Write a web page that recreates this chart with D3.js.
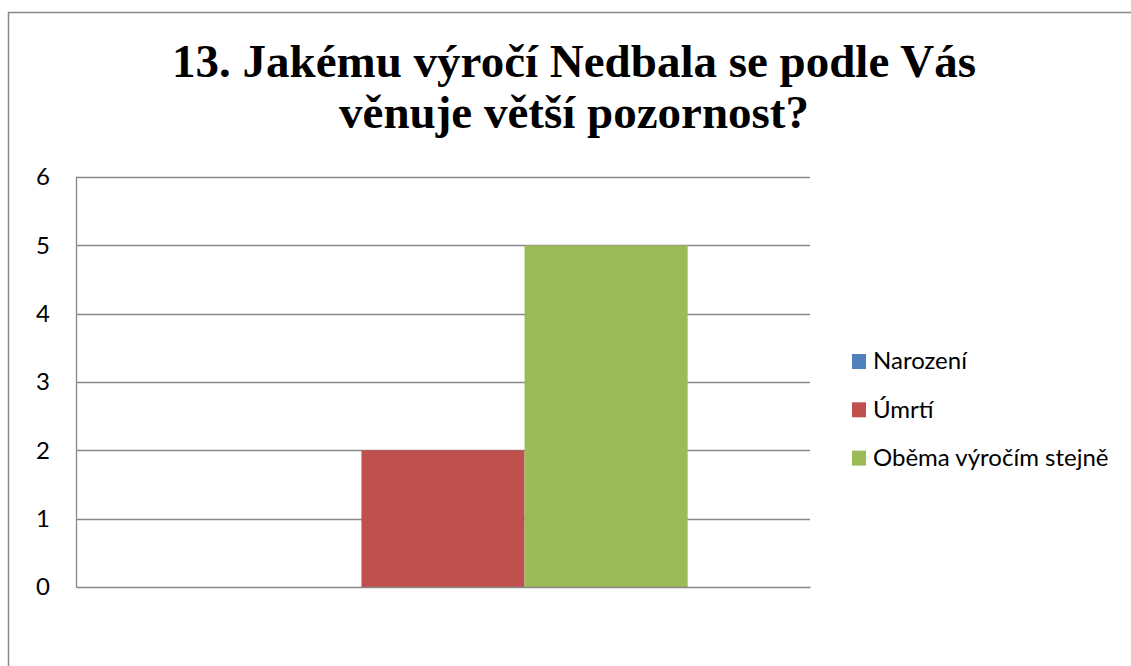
<!DOCTYPE html>
<html>
<head>
<meta charset="utf-8">
<script src="https://cdn.jsdelivr.net/npm/d3@7"></script>
<style>
  body { margin: 0; background: #fff; }
  .tick-label, .legend-label { font-family: Lato, "Open Sans", sans-serif; font-size: 24px; fill: #000; }
  .main-title { font-family: "Liberation Serif", "Times New Roman", serif; font-weight: bold; font-size: 47px; fill: #000; }
</style>
</head>
<body>
<div id="chart"></div>
<script>
// Data
const categories = ["Q13"];
const seriesNames = ["Narození", "Úmrtí", "Oběma výročím stejně"];
const seriesValues = [0, 2, 5];
const seriesColors = ["#4F81BD", "#C0504D", "#9BBB59"];
const yTicks = [0, 1, 2, 3, 4, 5, 6];
const titleLines = ["13. Jakému výročí Nedbala se podle Vás", "věnuje větší pozornost?"];

// Layout
const W = 1131, H = 666;
const plot = { left: 76, right: 810, top: 177, bottom: 587 };

const svg = d3.select("#chart")
  .append("svg")
  .attr("width", W)
  .attr("height", H);

// Outer chart frame (only top and left edges visible in the picture)
svg.append("rect")
  .attr("x", 8.5)
  .attr("y", 12.5)
  .attr("width", W + 20)
  .attr("height", H + 20)
  .attr("fill", "#fff")
  .attr("stroke", "#868686")
  .attr("stroke-width", 1.5);

// Title
const title = svg.append("text")
  .attr("class", "main-title")
  .attr("text-anchor", "middle");
title.selectAll("tspan")
  .data(titleLines)
  .enter()
  .append("tspan")
  .attr("x", 574)
  .attr("y", (d, i) => 77 + i * 51)
  .text(d => d);

// Scales
const yScale = d3.scaleLinear()
  .domain([0, d3.max(yTicks)])
  .range([plot.bottom, plot.top]);

const x0 = d3.scaleBand()
  .domain(categories)
  .range([plot.left, plot.right])
  .padding(0);

// gap width 150% -> outer padding of 0.75 bar on each side
const x1 = d3.scaleBand()
  .domain(seriesNames)
  .range([0, x0.bandwidth()])
  .paddingInner(0)
  .paddingOuter(0.75);

const color = d3.scaleOrdinal().domain(seriesNames).range(seriesColors);

// Gridlines
svg.append("g")
  .selectAll("line")
  .data(yTicks.filter(t => t > 0))
  .enter()
  .append("line")
  .attr("x1", plot.left)
  .attr("x2", plot.right)
  .attr("y1", d => Math.round(yScale(d)) + 0.5)
  .attr("y2", d => Math.round(yScale(d)) + 0.5)
  .style("stroke", "#888")
  .style("stroke-width", 1.3);

// Bars
const series = seriesNames.map((name, i) => ({ name, value: seriesValues[i] }));
svg.append("g")
  .attr("transform", `translate(${x0(categories[0])},0)`)
  .selectAll("rect")
  .data(series)
  .enter()
  .append("rect")
  .attr("x", d => x1(d.name))
  .attr("width", x1.bandwidth())
  .attr("y", d => yScale(d.value))
  .attr("height", d => yScale(0) - yScale(d.value))
  .attr("fill", d => color(d.name));

// Y axis
const yAxis = svg.append("g")
  .attr("transform", `translate(${plot.left},0)`)
  .call(d3.axisLeft(yScale).tickValues(yTicks).tickFormat(d3.format("d")).tickSize(0).tickPadding(26));
yAxis.select(".domain").attr("stroke", "#888").attr("stroke-width", 1.3);
yAxis.selectAll("text").attr("class", "tick-label").attr("fill", null);

// X axis (baseline)
const xAxis = svg.append("g")
  .attr("transform", `translate(0,${plot.bottom})`)
  .call(d3.axisBottom(x0).tickSize(0).tickFormat(""));
xAxis.select(".domain").attr("stroke", "#888").attr("stroke-width", 1.3);

// Legend
const legend = svg.append("g")
  .attr("transform", "translate(852,361)")
  .selectAll("g")
  .data(seriesNames)
  .enter()
  .append("g")
  .attr("transform", (d, i) => `translate(0,${i * 48.3})`);

legend.append("rect")
  .attr("x", 0)
  .attr("y", -7)
  .attr("width", 14)
  .attr("height", 15)
  .attr("fill", d => color(d));

legend.append("text")
  .attr("class", "legend-label")
  .attr("x", 21)
  .attr("dy", "0.35em")
  .text(d => d);
</script>
</body>
</html>
